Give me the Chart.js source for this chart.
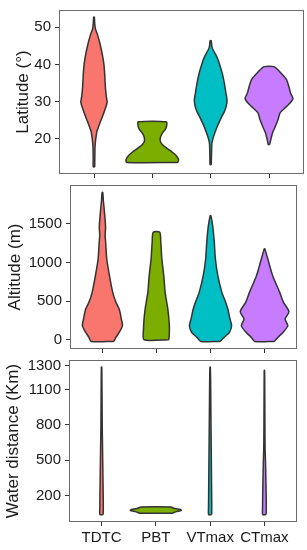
<!DOCTYPE html>
<html>
<head>
<meta charset="utf-8">
<script src="https://cdn.jsdelivr.net/npm/chart.js@4.4.0/dist/chart.umd.min.js"></script>
<style>
  body { margin: 0; background: #fff; }
  canvas { position: absolute; left: 0; }
</style>
</head>
<body>
<canvas id="lat" width="307" height="179" style="top:0"></canvas>
<canvas id="alt" width="307" height="175" style="top:179px"></canvas>
<canvas id="water" width="307" height="196" style="top:354px"></canvas>
<script>
const categories = ['TDTC', 'PBT', 'VTmax', 'CTmax'];
const fillColors = ['#F8766D', '#7CAE00', '#00BFC4', '#C77CFF'];

// Latitude (y levels and violin half widths, in category units)
const latTicks = [20, 30, 40, 50];
const latTdtcY = [12.5, 15, 18, 20, 22, 24, 26, 28, 29.8, 31.5, 34, 37, 40, 42, 44, 46, 48, 49.5, 51, 52.7];
const latTdtcW = [0.012, 0.014, 0.018, 0.03, 0.05, 0.095, 0.145, 0.19, 0.225, 0.21, 0.195, 0.185, 0.17, 0.15, 0.125, 0.095, 0.06, 0.025, 0.012, 0.006];
const latPbtY = [13.7, 14.5, 15.5, 16.5, 17.5, 18.5, 19.5, 20.5, 21.5, 22.5, 23.5, 24.6];
const latPbtW = [0.44, 0.45, 0.41, 0.34, 0.25, 0.17, 0.135, 0.14, 0.17, 0.22, 0.245, 0.24];
const latVtY = [13.1, 15, 17, 19, 20.7, 22, 23.4, 25, 26, 27.5, 29, 30.5, 32, 35, 37.5, 39.4, 41.5, 43, 44.5, 46.4];
const latVtW = [0.01, 0.013, 0.016, 0.022, 0.05, 0.08, 0.114, 0.16, 0.19, 0.24, 0.27, 0.28, 0.265, 0.234, 0.2, 0.165, 0.12, 0.074, 0.025, 0.008];
const latCtY = [18.5, 19.8, 21.6, 23.4, 25.2, 27, 28.7, 30.7, 32.3, 34.1, 35.9, 38.1, 39.4];
const latCtW = [0.012, 0.03, 0.06, 0.11, 0.155, 0.19, 0.3, 0.41, 0.37, 0.34, 0.3, 0.18, 0.085];

// Altitude
const altTicks = [0, 500, 1000, 1500];
const altTdtcY = [-22, 30, 95, 181, 268, 397, 484, 613, 829, 1045, 1261, 1350, 1450, 1550, 1693, 1800, 1909];
const altTdtcW = [0.21, 0.25, 0.31, 0.37, 0.35, 0.31, 0.25, 0.19, 0.13, 0.08, 0.06, 0.05, 0.058, 0.05, 0.032, 0.017, 0.006];
const altPbtY = [0, 138, 268, 397, 484, 613, 829, 1045, 1261, 1391];
const altPbtW = [0.23, 0.24, 0.23, 0.21, 0.19, 0.16, 0.135, 0.1, 0.08, 0.06];
const altVtY = [-22, 30, 95, 181, 268, 397, 484, 613, 829, 1045, 1261, 1477, 1607];
const altVtW = [0.18, 0.25, 0.35, 0.39, 0.36, 0.32, 0.28, 0.21, 0.135, 0.09, 0.07, 0.04, 0.006];
const altCtY = [-22, 30, 95, 181, 268, 363, 484, 613, 829, 1045, 1175];
const altCtW = [0.18, 0.245, 0.34, 0.43, 0.38, 0.45, 0.35, 0.28, 0.15, 0.06, 0.006];

// Water distance
const watTicks = [200, 500, 800, 1100, 1300];
const watTdtcY = [37, 100, 200, 400, 600, 800, 1000, 1200, 1290];
const watTdtcW = [0.03, 0.032, 0.03, 0.024, 0.018, 0.012, 0.009, 0.006, 0.003];
const watPbtY = [48, 55, 62, 72, 80, 90, 101];
const watPbtW = [0.3, 0.33, 0.38, 0.47, 0.45, 0.33, 0.28];
const watVtY = [37, 100, 200, 400, 600, 800, 1000, 1200, 1290];
const watVtW = [0.028, 0.03, 0.028, 0.024, 0.02, 0.016, 0.012, 0.008, 0.003];
const watCtY = [37, 100, 200, 300, 480, 600, 800, 1000, 1200, 1262];
const watCtW = [0.032, 0.034, 0.032, 0.028, 0.02, 0.012, 0.009, 0.007, 0.005, 0.003];

const fontFamily = "'Liberation Sans', Arial, sans-serif";

// outline of one violin: up the right side, back down the left side
function violinPoints(pos, ys, ws) {
    const pts = [];
    for (let i = 0; i < ys.length; i++) pts.push({ x: pos + ws[i], y: ys[i] });
    for (let i = ys.length - 1; i >= 0; i--) pts.push({ x: pos - ws[i], y: ys[i] });
    pts.push(pts[0]);
    return pts;
}

// panel frame
const boxPlugin = {
    id: 'box',
    afterDraw(chart) {
        const a = chart.chartArea;
        const ctx = chart.ctx;
        ctx.save();
        ctx.strokeStyle = '#6b6b6b';
        ctx.lineWidth = 1;
        ctx.strokeRect(Math.round(a.left) + 0.5, Math.round(a.top) + 0.5,
            Math.round(a.right - a.left) - 1, Math.round(a.bottom - a.top) - 1);
        ctx.restore();
    }
};

function makePanel(id, opts) {
    const datasets = opts.violins.map((v, i) => ({
        data: violinPoints(i + 1, v[0], v[1]),
        showLine: true,
        fill: 'shape',
        backgroundColor: fillColors[i],
        borderColor: '#333333',
        borderWidth: 1.5,
        pointRadius: 0,
        tension: 0.25
    }));

    new Chart(document.getElementById(id), {
        type: 'scatter',
        data: { datasets: datasets },
        options: {
            responsive: false,
            animation: false,
            layout: { padding: opts.padding },
            plugins: { legend: { display: false }, tooltip: { enabled: false } },
            scales: {
                x: {
                    min: 0.4,
                    max: 4.6,
                    afterBuildTicks: s => { s.ticks = [1, 2, 3, 4].map(v => ({ value: v })); },
                    afterFit: s => { s.height = opts.xHeight; s.paddingLeft = 0; s.paddingRight = 0; },
                    ticks: {
                        callback: (v, i) => opts.showLabels ? categories[i] : '',
                        font: { family: fontFamily, size: 15 },
                        color: '#1a1a1a',
                        padding: 3,
                        maxRotation: 0,
                        autoSkip: false
                    },
                    grid: { drawOnChartArea: false, tickLength: 4, tickColor: '#333333', tickWidth: 1 },
                    border: { display: false }
                },
                y: {
                    min: opts.yMin,
                    max: opts.yMax,
                    afterBuildTicks: s => { s.ticks = opts.yTicks.map(v => ({ value: v })); },
                    afterFit: s => { s.width = opts.yWidth; s.paddingTop = 0; s.paddingBottom = 0; },
                    ticks: {
                        callback: v => String(v),
                        font: { family: fontFamily, size: 15 },
                        color: '#1a1a1a',
                        padding: 4
                    },
                    grid: { drawOnChartArea: false, tickLength: 4, tickColor: '#333333', tickWidth: 1 },
                    border: { display: false },
                    title: {
                        display: true,
                        text: opts.title,
                        font: { family: fontFamily, size: 17 },
                        color: '#1a1a1a',
                        padding: 0
                    }
                }
            }
        },
        plugins: [boxPlugin]
    });
}

makePanel('lat', {
    title: 'Latitude (°)',
    violins: [[latTdtcY, latTdtcW], [latPbtY, latPbtW], [latVtY, latVtW], [latCtY, latCtW]],
    yTicks: latTicks, yMin: 10.6, yMax: 54.6,
    padding: { top: 10, left: 13, right: 3, bottom: 0 },
    yWidth: 46, xHeight: 5, showLabels: false
});

makePanel('alt', {
    title: 'Altitude (m)',
    violins: [[altTdtcY, altTdtcW], [altPbtY, altPbtW], [altVtY, altVtW], [altCtY, altCtW]],
    yTicks: altTicks, yMin: -120, yMax: 2003,
    padding: { top: 6, left: 5, right: 10, bottom: 0 },
    yWidth: 65, xHeight: 5, showLabels: false
});

makePanel('water', {
    title: 'Water distance (Km)',
    violins: [[watTdtcY, watTdtcW], [watPbtY, watPbtW], [watVtY, watVtW], [watCtY, watCtW]],
    yTicks: watTicks, yMin: -26, yMax: 1350,
    padding: { top: 6, left: 3, right: 10, bottom: 0 },
    yWidth: 66, xHeight: 28, showLabels: true
});
</script>
</body>
</html>
